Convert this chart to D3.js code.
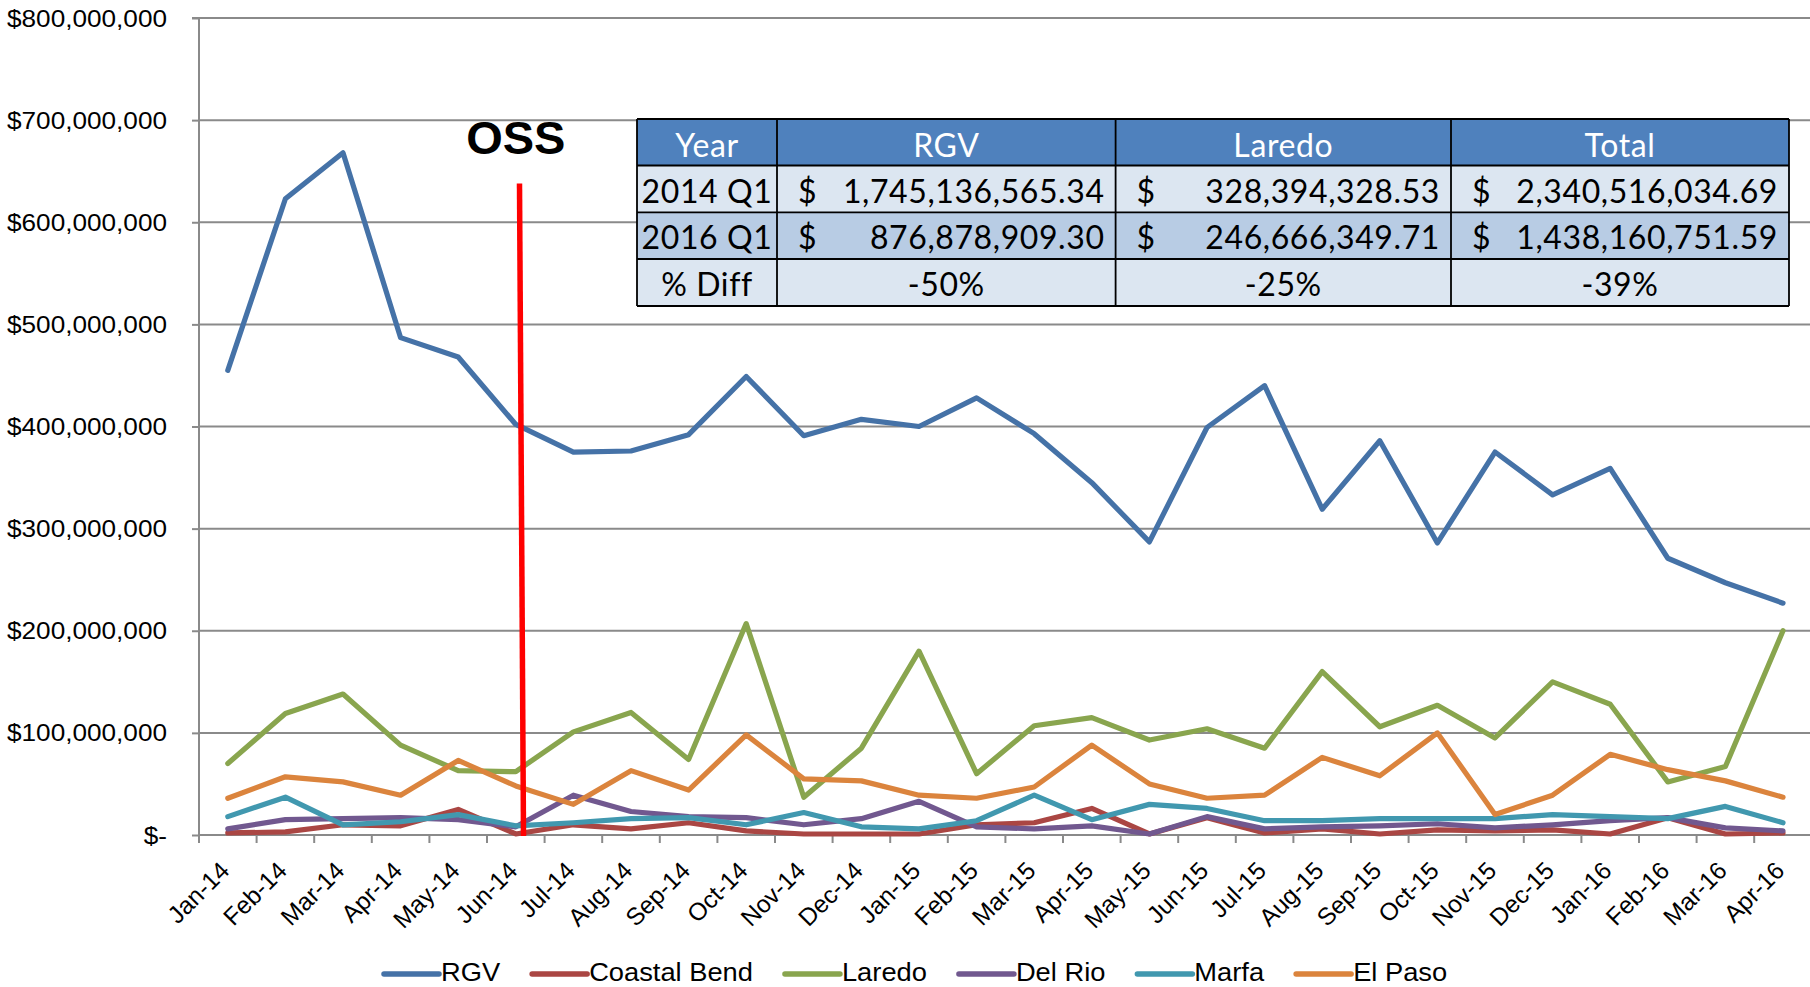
<!DOCTYPE html>
<html><head><meta charset="utf-8">
<script src="https://cdn.jsdelivr.net/npm/d3@7"></script>
<style>
body{margin:0;background:#fff;}
svg{display:block;font-family:"Liberation Sans",Arial,sans-serif;}
</style>
</head><body>
<svg id="c" width="1810" height="987"></svg>
<script>
// ---------- DATA (values in dollars; millions * 1e6) ----------
const categories = ["Jan-14","Feb-14","Mar-14","Apr-14","May-14","Jun-14","Jul-14","Aug-14","Sep-14","Oct-14","Nov-14","Dec-14",
  "Jan-15","Feb-15","Mar-15","Apr-15","May-15","Jun-15","Jul-15","Aug-15","Sep-15","Oct-15","Nov-15","Dec-15",
  "Jan-16","Feb-16","Mar-16","Apr-16"];
const seriesNames = ["RGV","Coastal Bend","Laredo","Del Rio","Marfa","El Paso"];
const rgvM        = [455,623,668,487,468,402,375,376,392,449,391,407, 400,428,393,345,287,399,440,319,386,286,375,333, 359,271,247,227];
const coastalBendM= [2,3,10,9,25,1,10,6,12,4,1,1, 1,10,12,26,1,17,2,6,1,5,4,5, 1,17,1,2];
const laredoM     = [70,119,138,88,63,62,101,120,74,207,37,85, 180,60,107,115,93,104,85,160,106,127,95,150, 128,52,67,200];
const delRioM     = [6,15,16,17,15,8,39,23,18,17,10,16, 33,8,6,9,1,18,6,8,9,11,7,10, 14,17,7,4];
const marfaM      = [18,37,10,13,20,9,12,16,17,10,22,8, 6,14,39,15,30,26,14,14,16,16,16,20, 18,16,28,12];
const elPasoM     = [36,57,52,39,73,48,30,63,44,98,55,53, 39,36,47,88,50,36,39,76,58,100,20,39, 79,64,53,37];
const seriesColors = ["#4572A7","#AA4643","#89A54E","#71588F","#4198AF","#DB843D"];
const yTicks = [0,100e6,200e6,300e6,400e6,500e6,600e6,700e6,800e6];

const tableHeader   = ["Year","RGV","Laredo","Total"];
const tableRowLabels= ["2014 Q1","2016 Q1","% Diff"];
const tableRGV      = ["1,745,136,565.34","876,878,909.30","-50%"];
const tableLaredo   = ["328,394,328.53","246,666,349.71","-25%"];
const tableTotal    = ["2,340,516,034.69","1,438,160,751.59","-39%"];

const ossCategory = "Jun-14";
const ossTopValue = 638e6;

// ---------- CHART ----------
(function () {
const M = 1e6;
const seriesData = [rgvM, coastalBendM, laredoM, delRioM, marfaM, elPasoM].map(a => a.map(v => v * M));
const svg = d3.select("#c");
const pLeft = 199, pRight = 1811.8, pTop = 18, pBottom = 835;
const x = d3.scaleBand().domain(categories).range([pLeft, pRight]).paddingInner(0).paddingOuter(0);
const y = d3.scaleLinear().domain([0, 800e6]).range([pBottom, pTop]);
const cx = c => x(c) + x.bandwidth() / 2;
const gridColor = "#8a8a8a";

// gridlines
svg.append("g").selectAll("line").data(yTicks.filter(d => d > 0)).join("line")
  .attr("x1", pLeft).attr("x2", 1810)
  .attr("y1", d => y(d)).attr("y2", d => y(d))
  .attr("stroke", gridColor).attr("stroke-width", 2);

// y axis
const yAxis = d3.axisLeft(y).tickValues(yTicks).tickSize(7).tickFormat(() => "");
const gy = svg.append("g").attr("transform", `translate(${pLeft},0)`).call(yAxis);
gy.select(".domain").attr("stroke", gridColor).attr("stroke-width", 2).attr("d", `M-7,${pTop}H0V${pBottom}`);
gy.selectAll(".tick line").attr("stroke", gridColor).attr("stroke-width", 2);
const fmt = d3.format("$,");
svg.append("g").selectAll("text").data(yTicks).join("text")
  .attr("transform", d => `translate(167,${y(d) + 8.5}) scale(1.09,1)`)
  .attr("text-anchor", "end").attr("font-size", 24).attr("fill", "#000")
  .text(d => d === 0 ? "$-" : fmt(d));

// x axis
svg.append("line").attr("x1", pLeft).attr("x2", 1810).attr("y1", pBottom).attr("y2", pBottom)
  .attr("stroke", gridColor).attr("stroke-width", 2);
const tickPos = categories.map(c => x(c)).concat([pRight]);
svg.append("g").selectAll("line").data(tickPos).join("line")
  .attr("x1", d => d).attr("x2", d => d).attr("y1", pBottom).attr("y2", pBottom + 8)
  .attr("stroke", gridColor).attr("stroke-width", 2);
svg.append("g").selectAll("text").data(categories).join("text")
  .attr("transform", c => `translate(${cx(c) + 3},${pBottom + 37}) rotate(-45)`)
  .attr("text-anchor", "end").attr("font-size", 24.5).attr("fill", "#000")
  .text(c => c);

// series lines
const line = d3.line().x((d, i) => cx(categories[i])).y(d => y(d));
svg.append("g").selectAll("path").data(seriesData).join("path")
  .attr("d", d => line(d)).attr("fill", "none")
  .attr("stroke", (d, i) => seriesColors[i]).attr("stroke-width", 5.2)
  .attr("stroke-linejoin", "round").attr("stroke-linecap", "round");

// OSS annotation
const ossX = cx(ossCategory);
svg.append("line").attr("x1", ossX + 3.7).attr("y1", y(ossTopValue))
  .attr("x2", ossX + 7.7).attr("y2", y(0) + 1)
  .attr("stroke", "#FF0000").attr("stroke-width", 5.5);
svg.append("text").attr("x", ossX).attr("y", 154).attr("text-anchor", "middle")
  .attr("font-size", 47).attr("font-weight", "bold").attr("fill", "#000").text("OSS");

// ---------- TABLE ----------
const colEdges = [637, 777, 1115.6, 1451, 1789];
const rowEdges = [119, 165.5, 212.3, 259, 306];
const rowFills = ["#4F81BD", "#DCE6F1", "#B8CCE4", "#DCE6F1"];
const tg = svg.append("g").attr("font-family", "Lato, 'Open Sans', sans-serif").attr("letter-spacing", "0.6px");
rowFills.forEach((f, r) => {
  tg.append("rect").attr("x", colEdges[0]).attr("y", rowEdges[r])
    .attr("width", colEdges[4] - colEdges[0]).attr("height", rowEdges[r + 1] - rowEdges[r]).attr("fill", f);
});
const fs = 32;
tableHeader.forEach((h, c) => {
  tg.append("text").attr("x", (colEdges[c] + colEdges[c + 1]) / 2).attr("y", rowEdges[0] + 37.5)
    .attr("text-anchor", "middle").attr("font-size", fs).attr("fill", "#fff").text(h);
});
const cols = [tableRGV, tableLaredo, tableTotal];
tableRowLabels.forEach((lab, r) => {
  const by = rowEdges[r + 1] + 37;
  tg.append("text").attr("x", (colEdges[0] + colEdges[1]) / 2).attr("y", by)
    .attr("text-anchor", "middle").attr("font-size", fs).attr("fill", "#000").text(lab);
  cols.forEach((col, c) => {
    const v = col[r];
    if (v.endsWith("%")) {
      tg.append("text").attr("x", (colEdges[c + 1] + colEdges[c + 2]) / 2).attr("y", by)
        .attr("text-anchor", "middle").attr("font-size", fs).attr("fill", "#000").text(v);
    } else {
      tg.append("text").attr("x", colEdges[c + 1] + 21).attr("y", by)
        .attr("font-size", fs).attr("fill", "#000").text("$");
      tg.append("text").attr("x", colEdges[c + 2] - 11).attr("y", by)
        .attr("text-anchor", "end").attr("font-size", fs).attr("fill", "#000").text(v);
    }
  });
});
rowEdges.forEach(ry => tg.append("line").attr("x1", colEdges[0]).attr("x2", colEdges[4])
  .attr("y1", ry).attr("y2", ry).attr("stroke", "#000").attr("stroke-width", 1.8));
colEdges.forEach(cxe => tg.append("line").attr("x1", cxe).attr("x2", cxe)
  .attr("y1", rowEdges[0]).attr("y2", rowEdges[4]).attr("stroke", "#000").attr("stroke-width", 1.8));

// ---------- LEGEND ----------
const lg = svg.append("g");
let lx = 384;
seriesNames.forEach((n, i) => {
  lg.append("line").attr("x1", lx).attr("x2", lx + 55).attr("y1", 974).attr("y2", 974)
    .attr("stroke", seriesColors[i]).attr("stroke-width", 5.5).attr("stroke-linecap", "round");
  const t = lg.append("text").attr("x", lx + 57).attr("y", 981.5).attr("font-size", 26.5)
    .attr("transform", `translate(${lx + 57},0) scale(1.03,1) translate(${-(lx + 57)},0)`)
    .attr("fill", "#000").text(n);
  lx += 57 + t.node().getComputedTextLength() * 1.03 + 32;
});
})();
</script>
</body></html>
